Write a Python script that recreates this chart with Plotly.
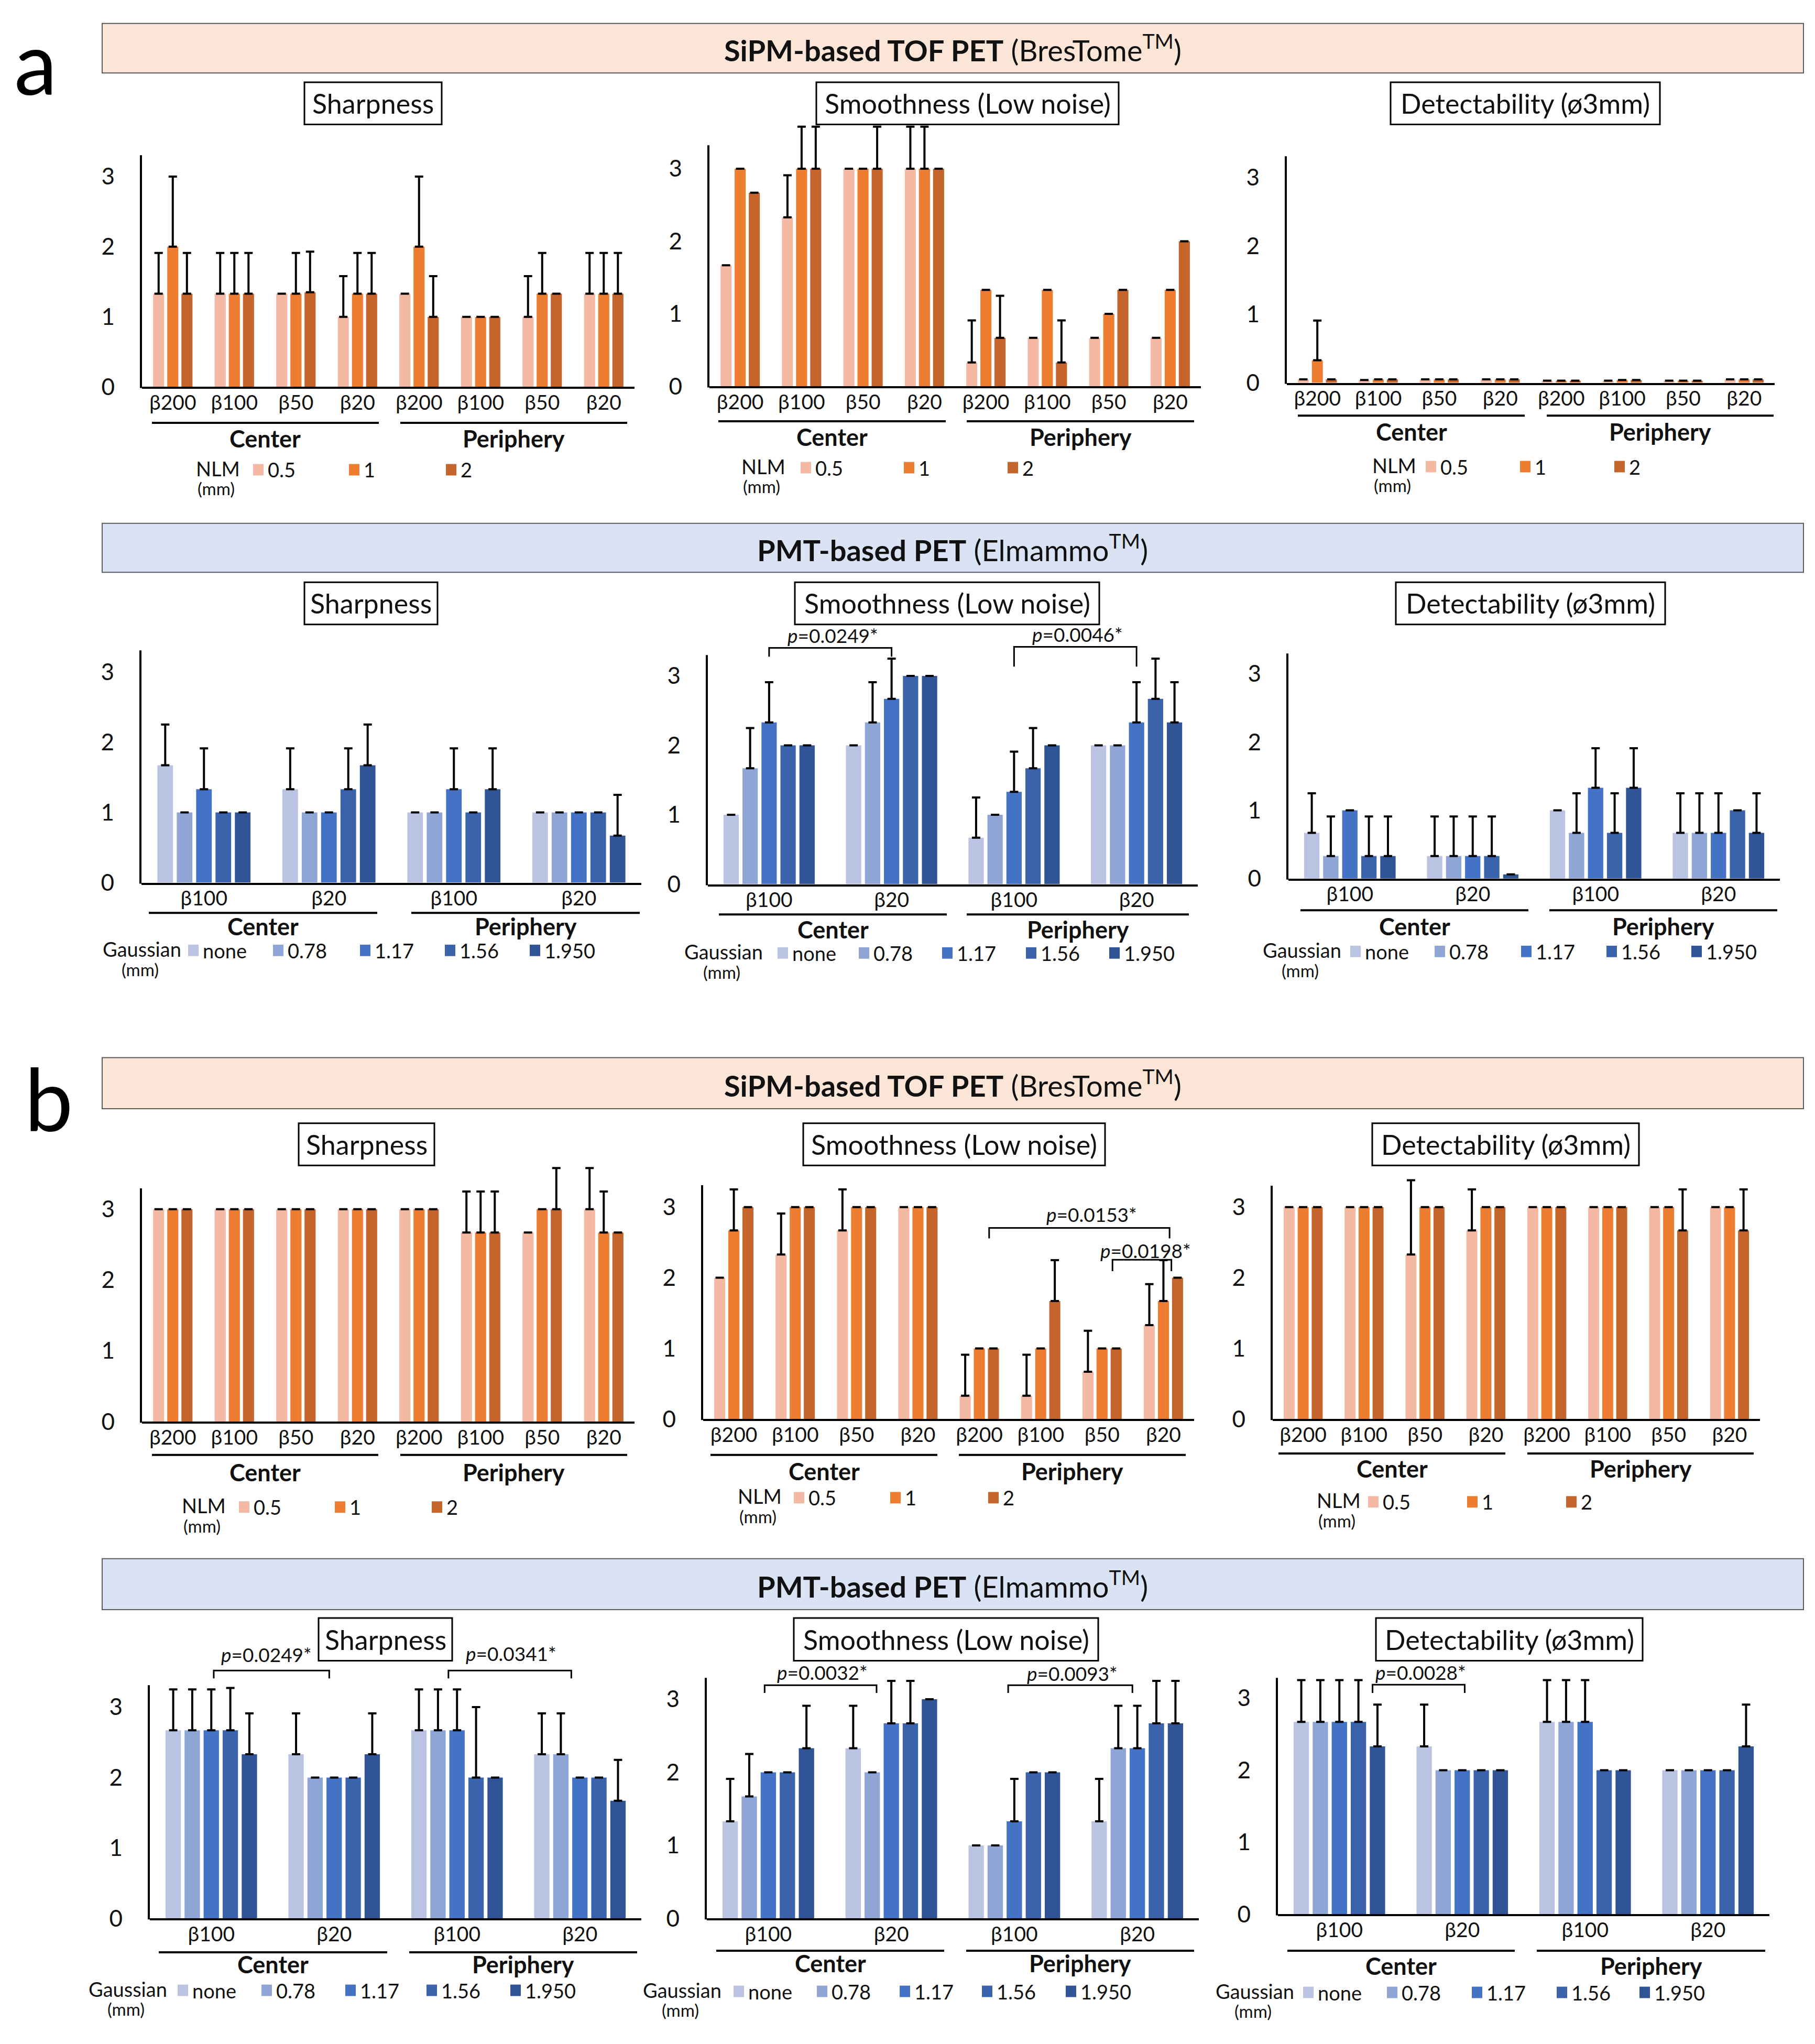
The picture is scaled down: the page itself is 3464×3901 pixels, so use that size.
import plotly.graph_objects as go

W, H = 3464, 3901
FONT = "Lato"
INK = "#111111"

# ---------------- categories / labels ----------------
SIPM_TICKS = ["β200", "β100", "β50", "β20", "β200", "β100", "β50", "β20"]
PMT_TICKS = ["β100", "β20", "β100", "β20"]
REGIONS = ["Center", "Periphery"]
NLM_LABELS = ["0.5", "1", "2"]
GAUSS_LABELS = ["none", "0.78", "1.17", "1.56", "1.950"]
NLM_COLORS = ["#F4B9A2", "#ED7D31", "#C5652B"]
GAUSS_COLORS = ["#BAC3E2", "#8FA5D6", "#4472C4", "#3B63AB", "#305496"]
PANEL_TITLES = ["Sharpness", "Smoothness (Low noise)", "Detectability (ø3mm)"]
HEADER_SIPM = "<b>SiPM-based TOF PET</b> (BresTome<sup>TM</sup>)"
HEADER_PMT = "<b>PMT-based PET</b> (Elmammo<sup>TM</sup>)"

# ---------------- values (rows = series, cols = groups) ----------------
A_SIPM_SHARP = [
    [1.33, 1.33, 1.33, 1.00, 1.33, 1.00, 1.00, 1.33],
    [2.00, 1.33, 1.33, 1.33, 2.00, 1.00, 1.33, 1.33],
    [1.33, 1.33, 1.35, 1.33, 1.00, 1.00, 1.33, 1.33],
]
A_SIPM_SHARP_ERR = [
    [0.58, 0.58, 0.00, 0.58, 0.00, 0.00, 0.58, 0.58],
    [1.00, 0.58, 0.58, 0.58, 1.00, 0.00, 0.58, 0.58],
    [0.58, 0.58, 0.58, 0.58, 0.58, 0.00, 0.00, 0.58],
]
A_SIPM_SMOOTH = [
    [1.67, 2.33, 3.00, 3.00, 0.33, 0.67, 0.67, 0.67],
    [3.00, 3.00, 3.00, 3.00, 1.33, 1.33, 1.00, 1.33],
    [2.67, 3.00, 3.00, 3.00, 0.67, 0.33, 1.33, 2.00],
]
A_SIPM_SMOOTH_ERR = [
    [0.00, 0.58, 0.00, 0.58, 0.58, 0.00, 0.00, 0.00],
    [0.00, 0.58, 0.00, 0.58, 0.00, 0.00, 0.00, 0.00],
    [0.00, 0.58, 0.58, 0.00, 0.58, 0.58, 0.00, 0.00],
]
A_SIPM_DETECT = [
    [0.05, 0.04, 0.05, 0.05, 0.03, 0.03, 0.03, 0.05],
    [0.33, 0.05, 0.05, 0.05, 0.03, 0.04, 0.03, 0.05],
    [0.05, 0.05, 0.05, 0.05, 0.03, 0.04, 0.03, 0.05],
]
A_SIPM_DETECT_ERR = [
    [0.00, 0.00, 0.00, 0.00, 0.00, 0.00, 0.00, 0.00],
    [0.58, 0.00, 0.00, 0.00, 0.00, 0.00, 0.00, 0.00],
    [0.00, 0.00, 0.00, 0.00, 0.00, 0.00, 0.00, 0.00],
]
A_PMT_SHARP = [
    [1.67, 1.33, 1.00, 1.00],
    [1.00, 1.00, 1.00, 1.00],
    [1.33, 1.00, 1.33, 1.00],
    [1.00, 1.33, 1.00, 1.00],
    [1.00, 1.67, 1.33, 0.67],
]
A_PMT_SHARP_ERR = [
    [0.58, 0.58, 0.00, 0.00],
    [0.00, 0.00, 0.00, 0.00],
    [0.58, 0.00, 0.58, 0.00],
    [0.00, 0.58, 0.00, 0.00],
    [0.00, 0.58, 0.58, 0.58],
]
A_PMT_SMOOTH = [
    [1.00, 2.00, 0.67, 2.00],
    [1.67, 2.33, 1.00, 2.00],
    [2.33, 2.67, 1.33, 2.33],
    [2.00, 3.00, 1.67, 2.67],
    [2.00, 3.00, 2.00, 2.33],
]
A_PMT_SMOOTH_ERR = [
    [0.00, 0.00, 0.58, 0.00],
    [0.58, 0.58, 0.00, 0.00],
    [0.58, 0.58, 0.58, 0.58],
    [0.00, 0.00, 0.58, 0.58],
    [0.00, 0.00, 0.00, 0.58],
]
A_PMT_DETECT = [
    [0.67, 0.33, 1.00, 0.67],
    [0.33, 0.33, 0.67, 0.67],
    [1.00, 0.33, 1.33, 0.67],
    [0.33, 0.33, 0.67, 1.00],
    [0.33, 0.06, 1.33, 0.67],
]
A_PMT_DETECT_ERR = [
    [0.58, 0.58, 0.00, 0.58],
    [0.58, 0.58, 0.58, 0.58],
    [0.00, 0.58, 0.58, 0.58],
    [0.58, 0.58, 0.58, 0.00],
    [0.58, 0.00, 0.58, 0.58],
]
B_SIPM_SHARP = [
    [3.00, 3.00, 3.00, 3.00, 3.00, 2.67, 2.67, 3.00],
    [3.00, 3.00, 3.00, 3.00, 3.00, 2.67, 3.00, 2.67],
    [3.00, 3.00, 3.00, 3.00, 3.00, 2.67, 3.00, 2.67],
]
B_SIPM_SHARP_ERR = [
    [0.00, 0.00, 0.00, 0.00, 0.00, 0.58, 0.00, 0.58],
    [0.00, 0.00, 0.00, 0.00, 0.00, 0.58, 0.00, 0.58],
    [0.00, 0.00, 0.00, 0.00, 0.00, 0.58, 0.58, 0.00],
]
B_SIPM_SMOOTH = [
    [2.00, 2.33, 2.67, 3.00, 0.33, 0.33, 0.67, 1.33],
    [2.67, 3.00, 3.00, 3.00, 1.00, 1.00, 1.00, 1.67],
    [3.00, 3.00, 3.00, 3.00, 1.00, 1.67, 1.00, 2.00],
]
B_SIPM_SMOOTH_ERR = [
    [0.00, 0.58, 0.58, 0.00, 0.58, 0.58, 0.58, 0.58],
    [0.58, 0.00, 0.00, 0.00, 0.00, 0.00, 0.00, 0.58],
    [0.00, 0.00, 0.00, 0.00, 0.00, 0.58, 0.00, 0.00],
]
B_SIPM_DETECT = [
    [3.00, 3.00, 2.33, 2.67, 3.00, 3.00, 3.00, 3.00],
    [3.00, 3.00, 3.00, 3.00, 3.00, 3.00, 3.00, 3.00],
    [3.00, 3.00, 3.00, 3.00, 3.00, 3.00, 2.67, 2.67],
]
B_SIPM_DETECT_ERR = [
    [0.00, 0.00, 1.05, 0.58, 0.00, 0.00, 0.00, 0.00],
    [0.00, 0.00, 0.00, 0.00, 0.00, 0.00, 0.00, 0.00],
    [0.00, 0.00, 0.00, 0.00, 0.00, 0.00, 0.58, 0.58],
]
B_PMT_SHARP = [
    [2.67, 2.33, 2.67, 2.33],
    [2.67, 2.00, 2.67, 2.33],
    [2.67, 2.00, 2.67, 2.00],
    [2.67, 2.00, 2.00, 2.00],
    [2.33, 2.33, 2.00, 1.67],
]
B_PMT_SHARP_ERR = [
    [0.58, 0.58, 0.58, 0.58],
    [0.58, 0.00, 0.58, 0.58],
    [0.58, 0.00, 0.58, 0.00],
    [0.60, 0.00, 1.00, 0.00],
    [0.58, 0.58, 0.00, 0.58],
]
B_PMT_SMOOTH = [
    [1.33, 2.33, 1.00, 1.33],
    [1.67, 2.00, 1.00, 2.33],
    [2.00, 2.67, 1.33, 2.33],
    [2.00, 2.67, 2.00, 2.67],
    [2.33, 3.00, 2.00, 2.67],
]
B_PMT_SMOOTH_ERR = [
    [0.58, 0.58, 0.00, 0.58],
    [0.58, 0.00, 0.00, 0.58],
    [0.00, 0.58, 0.58, 0.58],
    [0.00, 0.58, 0.00, 0.58],
    [0.58, 0.00, 0.00, 0.58],
]
B_PMT_DETECT = [
    [2.67, 2.33, 2.67, 2.00],
    [2.67, 2.00, 2.67, 2.00],
    [2.67, 2.00, 2.67, 2.00],
    [2.67, 2.00, 2.00, 2.00],
    [2.33, 2.00, 2.00, 2.33],
]
B_PMT_DETECT_ERR = [
    [0.58, 0.58, 0.58, 0.00],
    [0.58, 0.00, 0.58, 0.00],
    [0.58, 0.00, 0.58, 0.00],
    [0.58, 0.00, 0.00, 0.00],
    [0.58, 0.00, 0.00, 0.58],
]

# significance annotations: p-value texts
P_VALUES = ["0.0249", "0.0046", "0.0153", "0.0198", "0.0249", "0.0341", "0.0032", "0.0093", "0.0028"]

# ---------------- layout geometry (pixels of the page) ----------------
def X(p):
    return p / W


def Y(p):
    return 1 - p / H


YMAX = 3.9  # value range shown (room for error bars above the drawn axis line)

# ax = (x_left, x_right, y_zero, y_three, y_top_of_axis_line)
PANELS = [
    dict(vals=A_SIPM_SHARP, errs=A_SIPM_SHARP_ERR, kind="nlm", ax=(263, 1203, 735, 331, 290),
         gl=804, spans=((282, 715), (756, 1189)), cp=834, leg=894, legx=408, sw=(485, 668, 853)),
    dict(vals=A_SIPM_SMOOTH, errs=A_SIPM_SMOOTH_ERR, kind="nlm", ax=(1346, 2284, 734, 316, 271),
         gl=801, spans=((1363, 1797), (1837, 2271)), cp=831, leg=890, legx=1449, sw=(1530, 1727, 1925)),
    dict(vals=A_SIPM_DETECT, errs=A_SIPM_DETECT_ERR, kind="nlm", ax=(2448, 3379, 727, 333, 292),
         gl=790, spans=((2469, 2902), (2944, 3377)), cp=821, leg=888, legx=2653, sw=(2723, 2903, 3083)),
    dict(vals=A_PMT_SHARP, errs=A_PMT_SHARP_ERR, kind="gauss", ax=(262, 1216, 1687, 1282, 1241),
         gl=1745, spans=((276, 712), (777, 1213)), cp=1771, leg=1817, legx=263, sw=(361, 523, 689, 851, 1013)),
    dict(vals=A_PMT_SMOOTH, errs=A_PMT_SMOOTH_ERR, kind="gauss", ax=(1343, 2278, 1690, 1290, 1250),
         gl=1748, spans=((1364, 1799), (1837, 2261)), cp=1777, leg=1822, legx=1373, sw=(1486, 1641, 1800, 1960, 2119)),
    dict(vals=A_PMT_DETECT, errs=A_PMT_DETECT_ERR, kind="gauss", ax=(2451, 3389, 1679, 1286, 1247),
         gl=1740, spans=((2474, 2909), (2949, 3384)), cp=1771, leg=1819, legx=2477, sw=(2579, 2740, 2905, 3068, 3230)),
    dict(vals=B_SIPM_SHARP, errs=B_SIPM_SHARP_ERR, kind="nlm", ax=(263, 1203, 2722, 2314, 2274),
         gl=2786, spans=((282, 714), (756, 1189)), cp=2819, leg=2886, legx=381, sw=(458, 641, 826)),
    dict(vals=B_SIPM_SMOOTH, errs=B_SIPM_SMOOTH_ERR, kind="nlm", ax=(1334, 2271, 2717, 2310, 2268),
         gl=2786, spans=((1348, 1781), (1822, 2255)), cp=2817, leg=2868, legx=1442, sw=(1517, 1701, 1888)),
    dict(vals=B_SIPM_DETECT, errs=B_SIPM_DETECT_ERR, kind="nlm", ax=(2421, 3351, 2717, 2310, 2269),
         gl=2783, spans=((2432, 2865), (2907, 3339)), cp=2812, leg=2876, legx=2547, sw=(2613, 2802, 2991)),
    dict(vals=B_PMT_SHARP, errs=B_PMT_SHARP_ERR, kind="gauss", ax=(278, 1216, 3676, 3270, 3228),
         gl=3741, spans=((295, 731), (773, 1208)), cp=3764, leg=3814, legx=236, sw=(341, 501, 661, 816, 976)),
    dict(vals=B_PMT_SMOOTH, errs=B_PMT_SMOOTH_ERR, kind="gauss", ax=(1341, 2280, 3676, 3255, 3214),
         gl=3738, spans=((1359, 1794), (1836, 2271)), cp=3762, leg=3816, legx=1294, sw=(1402, 1561, 1719, 1876, 2036)),
    dict(vals=B_PMT_DETECT, errs=B_PMT_DETECT_ERR, kind="gauss", ax=(2431, 3369, 3668, 3253, 3214),
         gl=3738, spans=((2449, 2883), (2925, 3361)), cp=3767, leg=3818, legx=2387, sw=(2489, 2649, 2811, 2973, 3131)),
]

# (panel index, x0, x1 in group units, y line px, y leg px, p-value index, text x, text y px)
BRACKETS = [
    (4, 0.00, 1.00, 1236, 1253, 0, 0.52, 1212),
    (4, 2.00, 3.00, 1234, 1272, 1, 2.52, 1210),
    (7, 4.16, 7.10, 2350, 2370, 2, 5.83, 2324),
    (7, 6.17, 7.13, 2411, 2433, 3, 6.71, 2393),
    (9, 0.02, 0.96, 3200, 3215, 4, 0.45, 3169),
    (9, 1.93, 2.93, 3200, 3215, 5, 2.44, 3167),
    (10, -0.03, 0.88, 3228, 3243, 6, 0.44, 3203),
    (10, 1.95, 2.96, 3228, 3243, 7, 2.47, 3205),
    (11, 0.27, 1.02, 3227, 3243, 8, 0.66, 3203),
]

HEADERS = [  # (y_top, y_bottom, fill, text)
    (37, 132, "#FBE5D6", HEADER_SIPM),
    (997, 1091, "#DAE3F3", HEADER_PMT),
    (2023, 2121, "#FBE5D6", HEADER_SIPM),
    (2985, 3083, "#DAE3F3", HEADER_PMT),
]
TITLE_BOXES = [  # (x0, x1, y0, y1, title index)
    (573, 835, 150, 231, 0), (1550, 2127, 150, 231, 1), (2646, 3160, 150, 231, 2),
    (573, 827, 1110, 1191, 0), (1509, 2090, 1110, 1191, 1), (2656, 3170, 1110, 1191, 2),
    (562, 821, 2149, 2230, 0), (1525, 2101, 2149, 2230, 1), (2611, 3120, 2149, 2230, 2),
    (600, 855, 3099, 3181, 0), (1507, 2088, 3099, 3181, 1), (2618, 3127, 3099, 3181, 2),
]

fig = go.Figure()
shapes = []
annotations = []
layout_axes = {}

for i, p in enumerate(PANELS):
    k = i + 1
    xname = "x" if k == 1 else f"x{k}"
    yname = "y" if k == 1 else f"y{k}"
    xl, xr, y0, y3, ytop = p["ax"]
    if p["kind"] == "nlm":
        labels, colors, ticks = NLM_LABELS, NLM_COLORS, SIPM_TICKS
        pitch, bw = 0.23, 0.18
        legtitle = "NLM"
    else:
        labels, colors, ticks = GAUSS_LABELS, GAUSS_COLORS, PMT_TICKS
        pitch, bw = 0.155, 0.125
        legtitle = "Gaussian"
    n = len(ticks)
    ns = len(labels)
    for s in range(ns):
        off = (s - (ns - 1) / 2) * pitch - bw / 2
        fig.add_trace(go.Bar(
            x=list(range(n)), y=p["vals"][s], width=bw, offset=off,
            marker=dict(color=colors[s], line=dict(width=0)),
            error_y=dict(type="data", symmetric=False, array=p["errs"][s],
                         arrayminus=[0] * n, color="black", thickness=4, width=8),
            cliponaxis=False, showlegend=False, name=labels[s],
            xaxis=xname, yaxis=yname,
        ))
    unit = (y0 - y3) / 3.0
    dom_top = y0 - YMAX * unit
    layout_axes["xaxis" if k == 1 else f"xaxis{k}"] = dict(
        domain=[X(xl), X(xr)], anchor=yname, range=[-0.5, n - 0.5],
        tickmode="array", tickvals=list(range(n)), ticktext=ticks,
        showline=True, linecolor="black", linewidth=4, ticks="", showgrid=False,
        zeroline=False, tickfont=dict(family=FONT, size=39, color=INK), ticklabelstandoff=-7,
    )
    layout_axes["yaxis" if k == 1 else f"yaxis{k}"] = dict(
        domain=[Y(y0), Y(dom_top)], anchor=xname, range=[0, YMAX],
        tickmode="array", tickvals=[0, 1, 2, 3], ticktext=["0", "1", "2", "3"],
        showline=False, ticks="", showgrid=False,
        zeroline=False, tickfont=dict(family=FONT, size=44, color=INK), ticklabelstandoff=51,
    )
    # vertical axis line (stops at the chart's own top)
    shapes.append(dict(type="line", xref="paper", yref="paper", x0=X(xl - 2), x1=X(xl - 2),
                       y0=Y(y0 + 2), y1=Y(ytop), line=dict(color="black", width=4)))
    # region group lines and labels
    for r, (a, b) in enumerate(p["spans"]):
        shapes.append(dict(type="line", xref="paper", yref="paper", x0=X(a), x1=X(b),
                           y0=Y(p["gl"]), y1=Y(p["gl"]), line=dict(color="black", width=4)))
        annotations.append(dict(text=f"<b>{REGIONS[r]}</b>", x=X((a + b) / 2), y=Y(p["cp"]),
                                xref="paper", yref="paper", showarrow=False,
                                font=dict(family=FONT, size=45, color=INK),
                                xanchor="center", yanchor="middle"))
    # legend
    annotations.append(dict(text=legtitle, x=X(p["legx"]), y=Y(p["leg"] - 3), xref="paper", yref="paper",
                            showarrow=False, font=dict(family=FONT, size=38, color=INK),
                            xanchor="center", yanchor="middle"))
    annotations.append(dict(text="(mm)", x=X(p["legx"] - 4), y=Y(p["leg"] + 36), xref="paper", yref="paper",
                            showarrow=False, font=dict(family=FONT, size=33, color=INK),
                            xanchor="center", yanchor="middle"))
    for s in range(ns):
        sx = p["sw"][s]
        shapes.append(dict(type="rect", xref="paper", yref="paper",
                           x0=X(sx - 10), x1=X(sx + 10), y0=Y(p["leg"] - 11), y1=Y(p["leg"] + 11),
                           fillcolor=colors[s], line=dict(width=0)))
        annotations.append(dict(text=labels[s], x=X(sx + 16), y=Y(p["leg"]), xref="paper", yref="paper",
                                showarrow=False, font=dict(family=FONT, size=38, color=INK),
                                xanchor="left", yanchor="middle"))

# significance brackets
for (pi, bx0, bx1, yl, yleg, vi, tx, ty) in BRACKETS:
    xname = "x" if pi == 0 else f"x{pi + 1}"
    shapes.append(dict(type="path", xref=xname, yref="paper",
                       path=f"M {bx0},{Y(yleg)} L {bx0},{Y(yl)} L {bx1},{Y(yl)} L {bx1},{Y(yleg)}",
                       line=dict(color="black", width=3)))
    annotations.append(dict(text=f"<i>p</i>={P_VALUES[vi]}*", x=tx, y=Y(ty), xref=xname, yref="paper",
                            showarrow=False, font=dict(family=FONT, size=37, color=INK),
                            xanchor="center", yanchor="middle"))

# headers
for (yt, yb, fill, txt) in HEADERS:
    shapes.append(dict(type="rect", xref="paper", yref="paper", x0=X(187), x1=X(3434),
                       y0=Y(yb), y1=Y(yt), fillcolor=fill, line=dict(color="#5a5a5a", width=2),
                       layer="below"))
    annotations.append(dict(text=txt, x=X(1810), y=Y((yt + yb) / 2), xref="paper", yref="paper",
                            showarrow=False, font=dict(family=FONT, size=56, color=INK),
                            xanchor="center", yanchor="middle"))

# panel title boxes
for (bx0, bx1, by0, by1, ti) in TITLE_BOXES:
    shapes.append(dict(type="rect", xref="paper", yref="paper", x0=X(bx0), x1=X(bx1),
                       y0=Y(by1), y1=Y(by0), fillcolor="white", line=dict(color="black", width=3)))
    annotations.append(dict(text=PANEL_TITLES[ti], x=X((bx0 + bx1) / 2), y=Y((by0 + by1) / 2),
                            xref="paper", yref="paper", showarrow=False,
                            font=dict(family=FONT, size=52, color=INK),
                            xanchor="center", yanchor="middle"))

# part labels
annotations.append(dict(text="a", x=X(60), y=Y(110), xref="paper", yref="paper", showarrow=False,
                        font=dict(family=FONT, size=165, color="black"), xanchor="center", yanchor="middle"))
annotations.append(dict(text="b", x=X(85), y=Y(2100), xref="paper", yref="paper", showarrow=False,
                        font=dict(family=FONT, size=165, color="black"), xanchor="center", yanchor="middle"))

fig.update_layout(
    width=W, height=H, autosize=False,
    margin=dict(l=0, r=0, t=0, b=0),
    paper_bgcolor="white", plot_bgcolor="rgba(0,0,0,0)",
    showlegend=False, barmode="overlay",
    font=dict(family=FONT, color=INK),
    shapes=shapes, annotations=annotations,
    **layout_axes,
)

fig.write_html("out.html")
